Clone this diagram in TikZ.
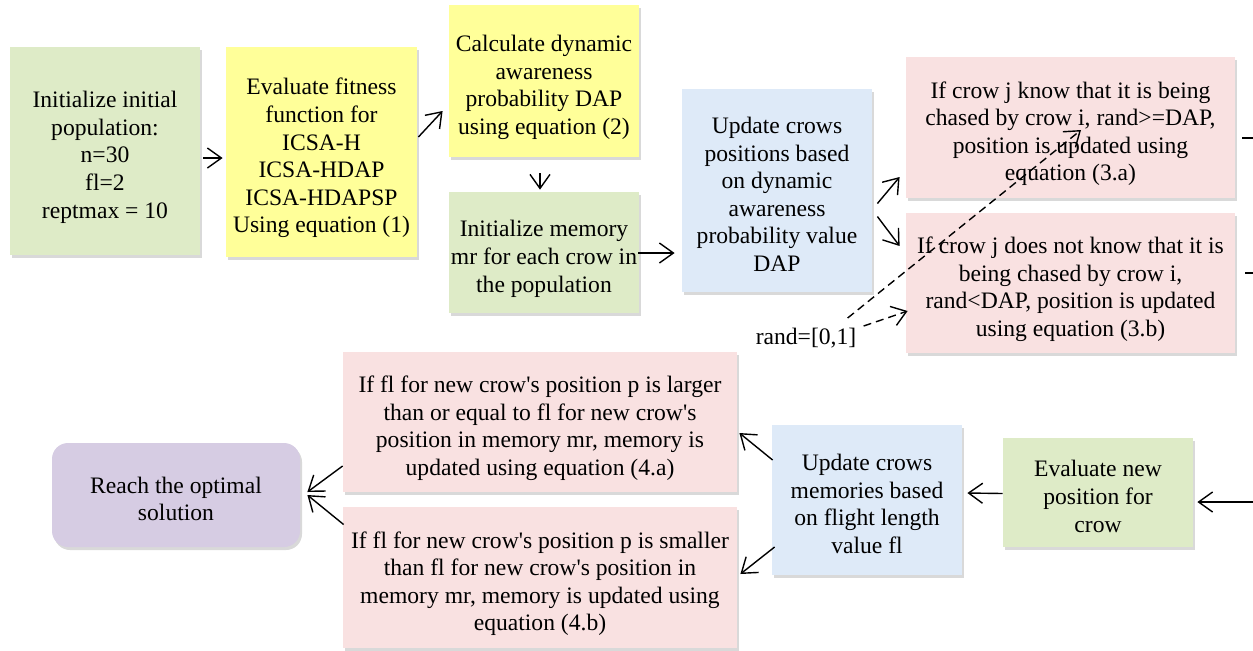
\documentclass[tikz,border=0pt]{standalone}
\usepackage{fontspec}
\setmainfont{Liberation Serif}
\usetikzlibrary{arrows.meta,shadows}
\newcommand\apos{\textquotesingle}
\newcommand\bt[1]{\raisebox{-3.2pt}[\height][\depth]{\begin{tabular}{@{}c@{}}#1\end{tabular}}}
\definecolor{cgreen}{RGB}{222,235,199}
\definecolor{cyellow}{RGB}{255,255,153}
\definecolor{cblue}{RGB}{222,234,248}
\definecolor{cpink}{RGB}{249,225,225}
\definecolor{cpurple}{RGB}{214,204,227}
\begin{document}
\begin{tikzpicture}[x=0.5pt,y=-0.5pt,
  font=\fontsize{11.8}{13.8}\selectfont,
  box/.style={rectangle, inner sep=0pt,
    drop shadow={shadow xshift=1pt,shadow yshift=-1.5pt,opacity=0.3}},
  arr/.style={line width=0.7pt,-{Straight Barb[length=7pt,width=10pt]}},
  darr/.style={arr,dash pattern=on 4pt off 2.5pt}]
\useasboundingbox (0,0) rectangle (1253,650);

\node[box,fill=cgreen,minimum width=95pt,minimum height=104pt] (b1) at (105,151)
  {\bt{Initialize initial\\population:\\n=30\\fl=2\\reptmax = 10}};
\node[box,fill=cyellow,minimum width=95.5pt,minimum height=105pt] (b2) at (321.5,152)
  {\bt{Evaluate fitness\\function for\\ICSA-H\\ICSA-HDAP\\ICSA-HDAPSP\\Using equation (1)}};
\node[box,fill=cyellow,minimum width=95pt,minimum height=76pt] (b3) at (544,81)
  {\bt{Calculate dynamic\\awareness\\probability DAP\\using equation (2)}};
\node[box,fill=cgreen,minimum width=95pt,minimum height=60.5pt] (b4) at (544,252.5)
  {\bt{Initialize memory\\mr for each crow in\\the population}};
\node[box,fill=cblue,minimum width=95pt,minimum height=101.5pt] (b5) at (777,190.5)
  {\bt{Update crows\\positions based\\on dynamic\\awareness\\probability value\\DAP}};
\node[box,fill=cpink,minimum width=164.5pt,minimum height=70.5pt] (b6) at (1070.5,127.5)
  {\bt{If crow j know that it is being\\chased by crow i, rand>=DAP,\\position is updated using\\equation (3.a)}};
\node[box,fill=cpink,minimum width=164.5pt,minimum height=70pt] (b7) at (1070.5,283)
  {\bt{If crow j does not know that it is\\being chased by crow i,\\rand<DAP, position is updated\\using equation (3.b)}};
\node[box,fill=cpink,minimum width=197pt,minimum height=70pt] (b8) at (540,422)
  {\bt{If fl for new crow\apos s position p is larger\\than or equal to fl for new crow\apos s\\position in memory mr, memory is\\updated using equation (4.a)}};
\node[box,fill=cpink,minimum width=197pt,minimum height=70.5pt] (b9) at (540,577.5)
  {\bt{If fl for new crow\apos s position p is smaller\\than fl for new crow\apos s position in\\memory mr, memory is updated using\\equation (4.b)}};
\node[box,fill=cblue,minimum width=95pt,minimum height=75pt] (b10) at (867,500)
  {\bt{Update crows\\memories based\\on flight length\\value fl}};
\node[box,fill=cgreen,minimum width=95pt,minimum height=54.5pt] (b11) at (1098,492.5)
  {\bt{Evaluate new\\position for\\crow}};
\node[box,fill=cpurple,rounded corners=8pt,minimum width=124pt,minimum height=52pt] (b12) at (176,495)
  {\bt{Reach the optimal\\solution}};
\node[inner sep=0pt] (rand) at (806,338) {rand=[0,1]};

\coordinate (e1) at (1253,138);
\coordinate (e2) at (1253,273);
\coordinate (e3) at (1253,502);

\draw[arr] ([shift={(3,7)}]b1.east) -- ([shift={(-3,6)}]b2.west);
\draw[arr] ([shift={(1,-15)}]b2.east) -- ([shift={(-6,30)}]b3.west);
\draw[arr] ([shift={(-4,16)}]b3.south) -- ([shift={(-4,-2)}]b4.north);
\draw[arr] ([shift={(-1,0.5)}]b4.east) -- ([shift={(-7,62.5)}]b5.west);
\draw[arr] ([shift={(5,13)}]b5.east) -- ([shift={(-6,49.5)}]b6.west);
\draw[arr] ([shift={(5,26)}]b5.east) -- ([shift={(-6,-37)}]b7.west);
\draw[darr] ([shift={(-9,-20)}]rand.east) -- ([shift={(10.5,2.5)}]b6.center);
\draw[darr] ([shift={(7,-12)}]rand.east) -- ([shift={(2,28)}]b7.west);
\draw[line width=0.7pt] ([shift={(7,10.5)}]b6.east) -- (e1);
\draw[line width=0.7pt] ([shift={(10,-10)}]b7.east) -- (e2);
\draw[arr] (e3) -- ([shift={(4,9.5)}]b11.east);
\draw[arr] ([shift={(0,1)}]b11.west) -- ([shift={(5,-7)}]b10.east);
\draw[arr] ([shift={(1,-40)}]b10.west) -- ([shift={(2,11)}]b8.east);
\draw[arr] ([shift={(3,47)}]b10.west) -- ([shift={(3,-3.5)}]b9.east);
\draw[arr] ([shift={(0,44)}]b8.west) -- ([shift={(7,-3)}]b12.east);
\draw[arr] ([shift={(1,-53)}]b9.west) -- ([shift={(7,0)}]b12.east);
\end{tikzpicture}
\end{document}
